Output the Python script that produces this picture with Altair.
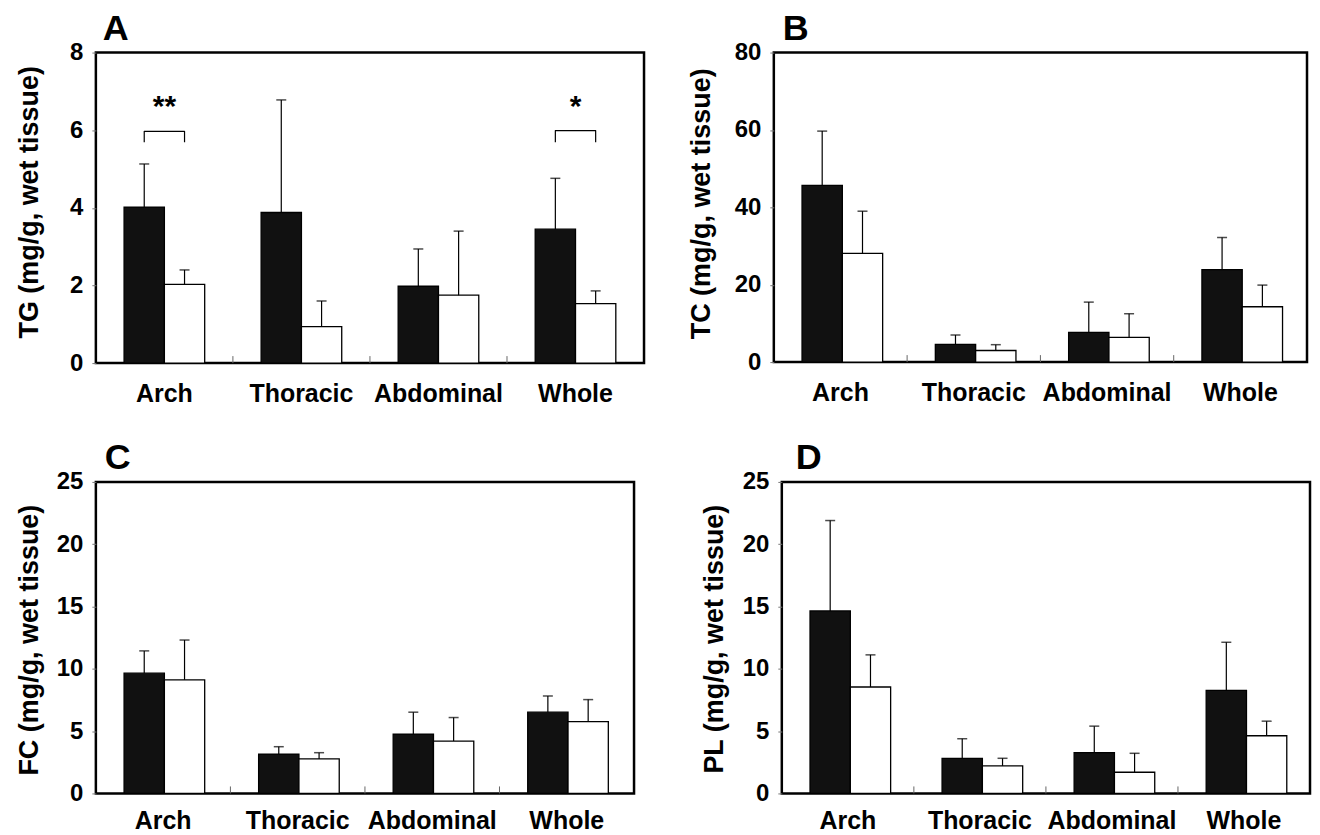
import altair as alt
import pandas as pd

categories = ["Arch", "Thoracic", "Abdominal", "Whole"]
groups = ["black", "white"]

# Panel A: TG
tg_black = [4.02, 3.88, 1.98, 3.45]
tg_black_upper = [5.13, 6.78, 2.94, 4.76]
tg_white = [2.03, 0.94, 1.75, 1.53]
tg_white_upper = [2.40, 1.60, 3.40, 1.86]

# Panel B: TC
tc_black = [45.7, 4.6, 7.7, 23.9]
tc_black_upper = [59.7, 7.0, 15.5, 32.2]
tc_white = [28.1, 3.0, 6.4, 14.3]
tc_white_upper = [39.0, 4.5, 12.5, 19.9]

# Panel C: FC
fc_black = [9.65, 3.16, 4.76, 6.52]
fc_black_upper = [11.44, 3.75, 6.52, 7.82]
fc_white = [9.12, 2.77, 4.20, 5.77]
fc_white_upper = [12.31, 3.27, 6.09, 7.53]

# Panel D: PL
pl_black = [14.65, 2.82, 3.27, 8.27]
pl_black_upper = [21.9, 4.39, 5.40, 12.13]
pl_white = [8.54, 2.21, 1.70, 4.63]
pl_white_upper = [11.12, 2.82, 3.22, 5.80]

# significance brackets in panel A
sig_cats = ["Arch", "Whole"]
sig_labels = ["**", "*"]
sig_bracket_top = [5.97, 5.99]
sig_bracket_foot = [5.69, 5.69]
sig_label_y = [6.6, 6.6]

boundary_cats = ["Thoracic", "Abdominal", "Whole"]

FONT = "Liberation Sans, Arial, sans-serif"


def build(black, black_up, white, white_up):
    rows = []
    for i, c in enumerate(categories):
        rows.append({"cat": c, "grp": "black", "mean": black[i], "upper": black_up[i]})
        rows.append({"cat": c, "grp": "white", "mean": white[i], "upper": white_up[i]})
    return pd.DataFrame(rows)


def panel(df, ytitle, letter, ymax, ticks, w, h, title_x, title_dy, letter_dx,
          label_pad=18, extra=None):
    xenc = alt.X("cat:N", sort=categories,
                 scale=alt.Scale(paddingInner=0, paddingOuter=0),
                 axis=alt.Axis(title=None, labelAngle=0, labelFont=FONT, labelFontSize=25,
                               labelFontWeight="bold", labelColor="black", ticks=False,
                               domain=False, labelPadding=label_pad))
    xoff = alt.XOffset("grp:N", sort=groups,
                       scale=alt.Scale(paddingInner=0, paddingOuter=0.7))
    yscale = alt.Scale(domain=[0, ymax], nice=False, zero=True)
    yenc = alt.Y("mean:Q", scale=yscale,
                 axis=alt.Axis(title=ytitle, values=ticks, titleX=title_x,
                               titleY=h / 2 + title_dy,
                               titleFont=FONT, titleFontSize=27, titleFontWeight="bold",
                               titleColor="black", labelFont=FONT, labelFontSize=24,
                               labelFontWeight="bold", labelColor="black", domain=False,
                               grid=False, ticks=True, tickSize=4, tickColor="#777",
                               labelPadding=9))
    base = alt.Chart(df)
    bars = base.mark_bar(stroke="black", strokeWidth=1.3).encode(
        x=xenc, xOffset=xoff, y=yenc,
        color=alt.Color("grp:N", scale=alt.Scale(domain=groups, range=["#111111", "#ffffff"]),
                        legend=None),
    )
    err = base.mark_rule(color="black", strokeWidth=1.2).encode(
        x=alt.X("cat:N", sort=categories), xOffset=alt.XOffset("grp:N", sort=groups),
        y=alt.Y("mean:Q", scale=yscale), y2="upper:Q",
    )
    caps = base.mark_tick(color="black", thickness=1.5, size=10, orient="horizontal").encode(
        x=alt.X("cat:N", sort=categories), xOffset=alt.XOffset("grp:N", sort=groups),
        y=alt.Y("upper:Q", scale=yscale),
    )
    bdf = pd.DataFrame({"cat": boundary_cats})
    btick = alt.Chart(bdf).mark_rule(color="#666", strokeWidth=1).encode(
        x=alt.X("cat:N", sort=categories, bandPosition=0),
        y=alt.value(h), y2=alt.value(h - 7),
    )
    layers = [bars, err, caps, btick]
    if extra is not None:
        layers += extra(yscale)
    return alt.layer(*layers).properties(
        width=w, height=h,
        title=alt.TitleParams(letter, anchor="start", frame="group", font=FONT, fontSize=36,
                              fontWeight="bold", color="black", dx=letter_dx, offset=-35,
                              baseline="alphabetic"),
    )


def sig_layers(yscale):
    rows = []
    for i, c in enumerate(sig_cats):
        rows.append({"cat": c, "grp": "black", "v": sig_bracket_foot[i], "o": 0, "b": c})
        rows.append({"cat": c, "grp": "black", "v": sig_bracket_top[i], "o": 1, "b": c})
        rows.append({"cat": c, "grp": "white", "v": sig_bracket_top[i], "o": 2, "b": c})
        rows.append({"cat": c, "grp": "white", "v": sig_bracket_foot[i], "o": 3, "b": c})
    bdf = pd.DataFrame(rows)
    line = alt.Chart(bdf).mark_line(color="black", strokeWidth=1.2, strokeJoin="round").encode(
        x=alt.X("cat:N", sort=categories), xOffset=alt.XOffset("grp:N", sort=groups),
        y=alt.Y("v:Q", scale=yscale), order="o:Q", detail="b:N",
    )
    tdf = pd.DataFrame({"cat": sig_cats, "lab": sig_labels, "v": sig_label_y})
    txt = alt.Chart(tdf).mark_text(font=FONT, fontSize=30, fontWeight="bold", color="black",
                                   baseline="middle").encode(
        x=alt.X("cat:N", sort=categories), y=alt.Y("v:Q", scale=yscale), text="lab:N",
    )
    return [line, txt]


pA = panel(build(tg_black, tg_black_upper, tg_white, tg_white_upper),
           "TG (mg/g, wet tissue)", "A", 8, [0, 2, 4, 6, 8], 549, 311, -52, -6, 7,
           extra=sig_layers)
pB = panel(build(tc_black, tc_black_upper, tc_white, tc_white_upper),
           "TC (mg/g, wet tissue)", "B", 80, [0, 20, 40, 60, 80], 534, 310, -58, -4, 9)
pC = panel(build(fc_black, fc_black_upper, fc_white, fc_white_upper),
           "FC (mg/g, wet tissue)", "C", 25, [0, 5, 10, 15, 20, 25], 539, 312, -52, 2, 9,
           label_pad=15)
pD = panel(build(pl_black, pl_black_upper, pl_white, pl_white_upper),
           "PL (mg/g, wet tissue)", "D", 25, [0, 5, 10, 15, 20, 25], 529, 312, -53, 1, 14,
           label_pad=15)

chart = alt.vconcat(
    alt.hconcat(pA, pB, spacing=40),
    alt.hconcat(pC, pD, spacing=63),
    spacing=30,
).configure_view(stroke="black", strokeWidth=2.5).properties(
    padding={"left": 6, "top": 0, "right": 0, "bottom": 0},
    background="white",
)

chart.save("out.html", embed_options={"renderer": "svg", "actions": False})
